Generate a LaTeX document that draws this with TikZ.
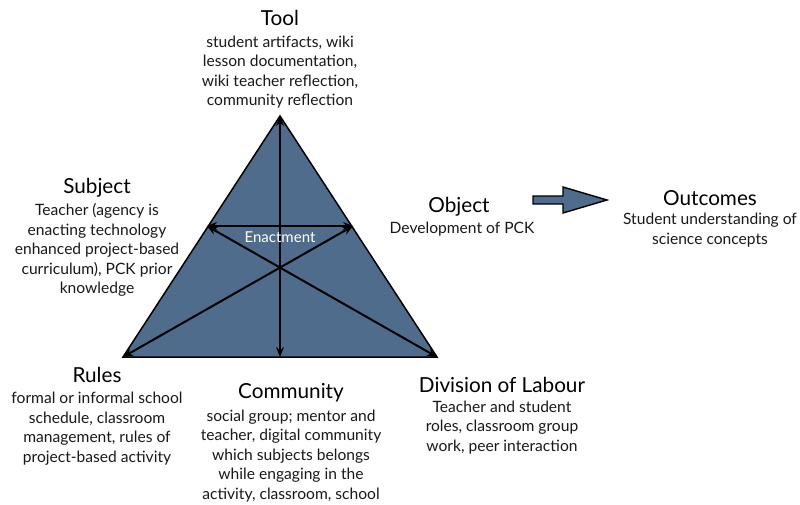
\documentclass[tikz,border=0pt]{standalone}
\usepackage{fontspec}
\setmainfont{Lato}
\usetikzlibrary{arrows.meta}
\definecolor{tri}{RGB}{80,108,140}
\begin{document}
\begin{tikzpicture}[x=1pt,y=-1pt,
  ttl/.style={font=\fontsize{20.7}{24}\selectfont, inner sep=0pt, text=black},
  bdy/.style={font=\fontsize{15.6}{19.5}\selectfont, align=center, inner sep=0pt, text=black!90},
  dbl/.style={line width=2pt, {Stealth[length=10pt,width=8pt]}-{Stealth[length=10pt,width=8pt]}}]
\useasboundingbox[fill=white] (0,0) rectangle (800,504);
% triangle
\coordinate (A) at (280,116);
\coordinate (L) at (123,357);
\coordinate (R) at (437,357);
\coordinate (P) at (207,226);
\coordinate (Q) at (353,226);
\coordinate (B) at (280,357);
\fill[tri] (A) -- (L) -- (R) -- cycle;
\draw[line width=1.5pt, line join=miter] (A) -- (L) -- (R) -- cycle;
\draw[dbl] (A) -- (B);
\draw[dbl] (P) -- (Q);
\draw[dbl] (L) -- (Q);
\draw[dbl] (R) -- (P);
\node[bdy, text=white, font=\fontsize{15}{18}\selectfont] (enact) at (280,237) {Enactment};
% block arrow
\filldraw[fill=tri, draw=black, line width=1.4pt, line join=miter]
  (533,196) -- (563,196) -- (563,187) -- (607,200) -- (563,213) -- (563,204) -- (533,204) -- cycle;
% texts
\node[ttl] (tooltitle) at (280,18) {Tool};
\node[bdy] (toolbody) at (280,72) {student artifacts, wiki\\lesson documentation,\\wiki teacher reflection,\\community reflection};
\node[ttl] (subjtitle) at (97,188) {Subject};
\node[bdy] (subjbody) at (97,250) {Teacher (agency is\\enacting technology\\enhanced project-based\\curriculum), PCK prior\\knowledge};
\node[ttl] (objtitle) at (459,207) {Object};
\node[bdy] (objbody) at (462,229) {Development of PCK};
\node[ttl] (outtitle) at (710,198) {Outcomes};
\node[bdy] (outbody) at (710,230) {Student understanding of\\science concepts};
\node[ttl] (rultitle) at (97,375) {Rules};
\node[bdy] (rulbody) at (97,428.5) {formal or informal school\\schedule, classroom\\management, rules of\\project-based activity};
\node[ttl] (comtitle) at (291,393) {Community};
\node[bdy] (combody) at (291,456) {social group; mentor and\\teacher, digital community\\which subjects belongs\\while engaging in the\\activity, classroom, school};
\node[ttl] (divtitle) at (502,385) {Division of Labour};
\node[bdy] (divbody) at (502,427.5) {Teacher and student\\roles, classroom group\\work, peer interaction};
\end{tikzpicture}
\end{document}
